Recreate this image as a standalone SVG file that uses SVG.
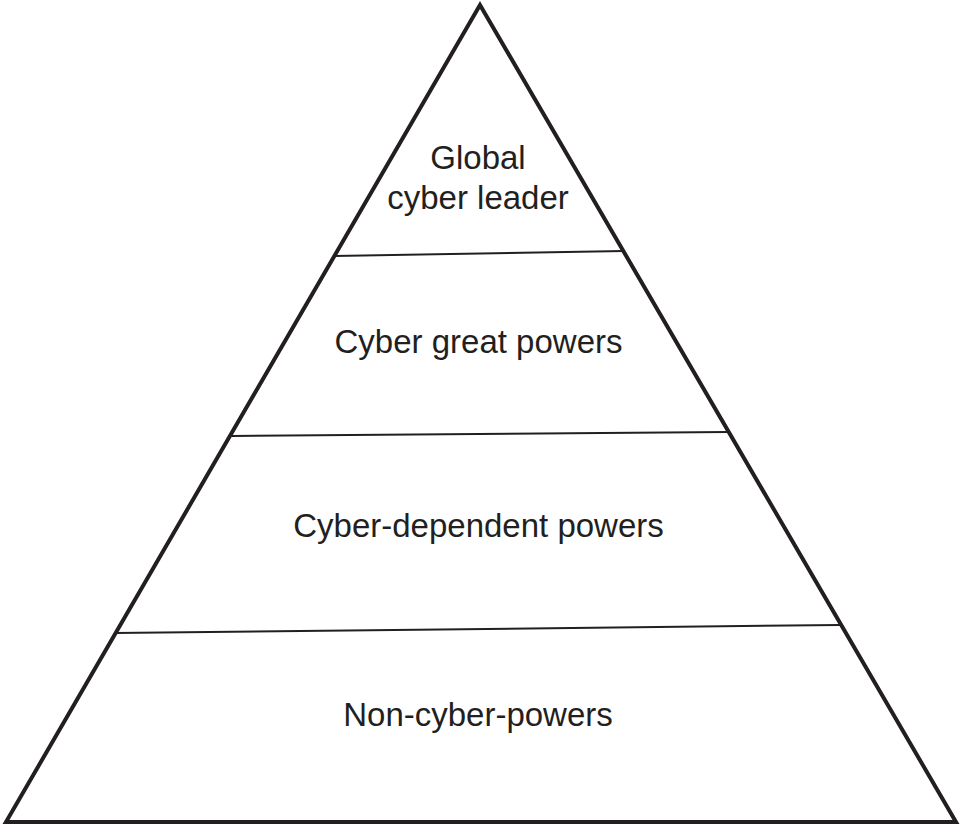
<svg xmlns="http://www.w3.org/2000/svg" width="961" height="826" viewBox="0 0 961 826">
<style>
.tri{fill:none;stroke:#231f20;stroke-width:4;stroke-linejoin:miter;stroke-miterlimit:10}
.div{stroke:#231f20;stroke-width:2;fill:none}
.lbl{font-family:"Liberation Sans",Arial,sans-serif;font-size:33px;fill:#231f20;text-anchor:middle}
</style>
<rect width="961" height="826" fill="#ffffff"/>
<g id="pyramid">
<polygon class="tri" points="480,5 956,822 6,822"/>
</g>
<g id="connectors">
<line class="div" x1="334" y1="256" x2="624" y2="251"/>
<line class="div" x1="232" y1="436" x2="728" y2="432"/>
<line class="div" x1="115" y1="633" x2="840" y2="625"/>
</g>
<g id="tier1">
<text class="lbl" x="478" y="169">Global</text>
<text class="lbl" x="478" y="209">cyber leader</text>
</g>
<g id="tier2">
<text class="lbl" x="478.5" y="353">Cyber great powers</text>
</g>
<g id="tier3">
<text class="lbl" x="478.5" y="537">Cyber-dependent powers</text>
</g>
<g id="tier4">
<text class="lbl" x="478" y="726">Non-cyber-powers</text>
</g>
</svg>
